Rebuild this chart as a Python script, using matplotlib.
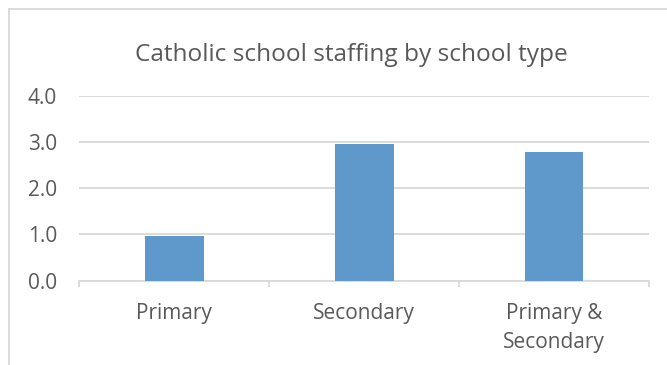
import matplotlib
matplotlib.use("Agg")
import matplotlib.pyplot as plt
from matplotlib.lines import Line2D

# Chart data
categories = ["Primary", "Secondary", "Primary &\nSecondary"]
staffing = [0.96, 2.95, 2.78]
y_ticks = [0.0, 1.0, 2.0, 3.0, 4.0]
title = "Catholic school staffing by school type"

TEXT = "#595959"
GRID = "#d9d9d9"
BAR = "#5f98cb"

plt.rcParams["font.family"] = ["Open Sans", "DejaVu Sans"]

fig = plt.figure(figsize=(6.67, 3.65), dpi=100)
ax = fig.add_axes([0.119, 0.2315, 0.854, 0.5065])

x = list(range(len(categories)))
ax.bar(x, staffing, width=0.31, color=BAR, zorder=3)

ax.set_xlim(-0.5, len(categories) - 0.5)
ax.set_ylim(y_ticks[0], y_ticks[-1])
ax.set_yticks(y_ticks)
ax.set_yticklabels([f"{v:.1f}" for v in y_ticks])
ax.set_xticks(x)
ax.set_xticklabels(categories, linespacing=1.5)
ax.set_xticks([i - 0.5 for i in range(len(categories) + 1)], minor=True)

ax.yaxis.grid(True, color=GRID, linewidth=1.3, zorder=0)
ax.set_axisbelow(True)
for side in ("top", "right", "left"):
    ax.spines[side].set_visible(False)
ax.spines["bottom"].set_color(GRID)
ax.spines["bottom"].set_linewidth(1.3)

ax.tick_params(axis="y", length=0, pad=16, labelsize=15, labelcolor=TEXT)
ax.tick_params(axis="x", which="major", length=0, pad=16, labelsize=15, labelcolor=TEXT)
ax.tick_params(axis="x", which="minor", length=4.5, width=1.3, color=GRID)

fig.text(0.527, 0.833, title, ha="center", va="baseline", fontsize=17.6, color=TEXT)

# Chart area border (top and left edges)
W, H = 667, 365
fig.add_artist(Line2D([9 / W, 1.0], [1 - 8.5 / H, 1 - 8.5 / H], color=GRID, linewidth=1.3))
fig.add_artist(Line2D([9 / W, 9 / W], [1 - 8.5 / H, 0.0], color=GRID, linewidth=1.3))

fig.savefig("out.png", dpi=100, facecolor="white")
